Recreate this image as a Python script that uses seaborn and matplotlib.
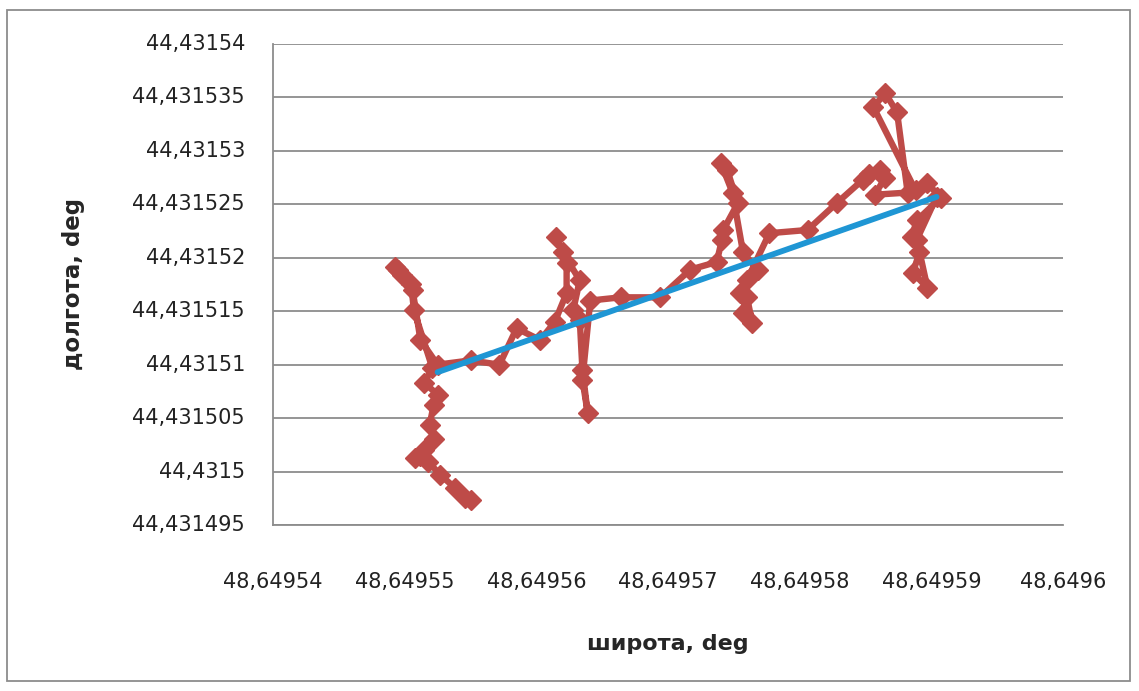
import numpy as np
import pandas as pd
import seaborn as sns
import matplotlib
matplotlib.use('Agg')
import matplotlib.pyplot as plt
import matplotlib.transforms as mtransforms
from matplotlib.ticker import MultipleLocator, FuncFormatter
from matplotlib.patches import Rectangle

# GPS track (latitude / longitude, deg)
lat = [48.6495550, 48.6495546, 48.6495538, 48.6495527, 48.6495518, 48.6495508,
       48.6495512, 48.6495515, 48.6495522, 48.6495519, 48.6495522, 48.6495525,
       48.6495515, 48.6495521, 48.6495507, 48.6495505, 48.6495498, 48.6495493,
       48.6495495, 48.6495506, 48.6495512, 48.6495525, 48.6495550, 48.6495572,
       48.6495585, 48.6495603, 48.6495614, 48.6495623, 48.6495623, 48.6495615,
       48.6495620, 48.6495633, 48.6495628, 48.6495633, 48.6495635, 48.6495639,
       48.6495635, 48.6495641, 48.6495664, 48.6495694, 48.6495717, 48.6495737,
       48.6495741, 48.6495742, 48.6495753, 48.6495745, 48.6495740, 48.6495749,
       48.6495757, 48.6495768, 48.6495755, 48.6495760, 48.6495764, 48.6495757,
       48.6495760, 48.6495777, 48.6495806, 48.6495828, 48.6495848, 48.6495853,
       48.6495861, 48.6495865, 48.6495857, 48.6495882, 48.6495874, 48.6495865,
       48.6495856, 48.6495888, 48.6495897, 48.6495907, 48.6495889, 48.6495885,
       48.6495891, 48.6495886, 48.6495897, 48.6495889, 48.6495904]
lon = [44.4314973, 44.4314975, 44.4314985, 44.4314997, 44.4315009, 44.4315013,
       44.4315015, 44.4315020, 44.4315030, 44.4315044, 44.4315062, 44.4315072,
       44.4315083, 44.4315097, 44.4315151, 44.4315175, 44.4315184, 44.4315191,
       44.4315189, 44.4315170, 44.4315123, 44.4315100, 44.4315104, 44.4315100,
       44.4315134, 44.4315123, 44.4315140, 44.4315167, 44.4315195, 44.4315219,
       44.4315205, 44.4315179, 44.4315151, 44.4315142, 44.4315095, 44.4315055,
       44.4315086, 44.4315160, 44.4315163, 44.4315163, 44.4315189, 44.4315196,
       44.4315217, 44.4315226, 44.4315251, 44.4315282, 44.4315289, 44.4315261,
       44.4315205, 44.4315189, 44.4315167, 44.4315163, 44.4315139, 44.4315148,
       44.4315179, 44.4315223, 44.4315226, 44.4315251, 44.4315273, 44.4315278,
       44.4315282, 44.4315275, 44.4315259, 44.4315261, 44.4315336, 44.4315354,
       44.4315341, 44.4315263, 44.4315270, 44.4315256, 44.4315235, 44.4315219,
       44.4315205, 44.4315186, 44.4315172, 44.4315217, 44.4315257]

# straight line start -> end
line_lat = [48.6495525, 48.6495904]
line_lon = [44.4315093, 44.4315257]

red = '#BE4B48'
blue = '#1F96D4'

sns.set_style('white')
plt.rcParams['font.family'] = ['DejaVu Sans']
plt.rcParams['font.size'] = 15

fig = plt.figure(figsize=(11.39, 6.91), dpi=100)
ax = fig.add_axes([273/1139, 1-525/691, (1063-273)/1139, (525-44)/691])

track = pd.DataFrame({'lat': lat, 'lon': lon})
sns.lineplot(data=track, x='lat', y='lon', sort=False, estimator=None, ax=ax,
             color=red, linewidth=4.6, marker='D', markersize=10,
             markeredgecolor=red, markeredgewidth=1)
sns.lineplot(x=line_lat, y=line_lon, sort=False, estimator=None, ax=ax,
             color=blue, linewidth=4.2)

ax.set_xlim(48.64954, 48.6496)
ax.set_ylim(44.431495, 44.43154)
ax.xaxis.set_major_locator(MultipleLocator(0.00001))
ax.yaxis.set_major_locator(MultipleLocator(0.000005))

def excel_fmt(v, pos=None):
    return ('%.8g' % v).replace('.', ',')

ax.xaxis.set_major_formatter(FuncFormatter(excel_fmt))

ax.grid(axis='y', color='#8c8c8c', linewidth=1.3)
ax.grid(axis='x', visible=False)
ax.set_axisbelow(True)
for s in ['top', 'right']:
    ax.spines[s].set_visible(False)
for s in ['left', 'bottom']:
    ax.spines[s].set_color('#8c8c8c')
    ax.spines[s].set_linewidth(1.3)

ax.tick_params(axis='x', length=0, pad=34, labelsize=15, labelcolor='#222222')
ax.tick_params(axis='y', length=0, labelleft=False)

# y tick labels, set off from the axis like in Excel
ytr = mtransforms.blended_transform_factory(ax.transAxes, ax.transData)
lo, hi = ax.get_ylim()
for v in ax.yaxis.get_major_locator().tick_values(lo, hi):
    if lo - 1e-9 <= v <= hi + 1e-9:
        ax.text(-28/790, v, excel_fmt(v), transform=ytr, ha='right', va='center',
                fontsize=15, color='#222222')

ax.set_xlabel('широта, deg', fontsize=16, fontweight='bold', labelpad=30)
ax.set_ylabel('долгота, deg', fontsize=16.5, fontweight='bold')
ax.yaxis.set_label_coords(-0.238, 0.5)

# outer chart frame
fig.patches.append(Rectangle((7/1139, 1-681/691), (1130-7)/1139, (681-10)/691,
                             transform=fig.transFigure, fill=False,
                             edgecolor='#8c8c8c', linewidth=1.3))

fig.savefig('out.png', dpi=100)
plt.close()
